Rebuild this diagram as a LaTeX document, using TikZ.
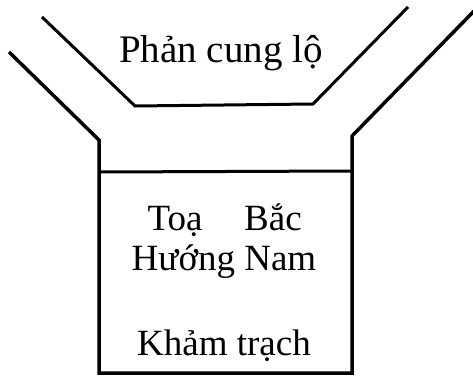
\documentclass[tikz,border=0pt]{standalone}
\usepackage{fontspec}
\setmainfont{Liberation Serif}
\usetikzlibrary{positioning}
\begin{document}
\begin{tikzpicture}[x=1pt, y=-1pt, line width=3pt] % Styles
\tikzstyle{wall}=[draw, line width=3.5pt]
\tikzstyle{label}=[font=\fontsize{37}{40}\selectfont, inner sep=0pt, anchor=base]
\useasboundingbox (0,0) rectangle (473,382);
\clip (0,0) rectangle (473,382); % Walls
\draw[wall] (9,52) -- (99,140) -- (99,373) -- (352,373) -- (352,136) -- (476,9);
\draw (42,17) -- (135,106) -- (313,104) -- (408,7);
\draw (99,172) -- (352,171); % Labels
\node[label, font=\fontsize{39}{42}\selectfont] (phan) at (221,63) {Phản cung lộ};
\node[label] (toa) at (175,230) {Toạ};
\node[label] (bac) at (273,230) {Bắc};
\node[label] (huong) at (224,270) {Hướng Nam};
\node[label] (kham) at (224,355) {Khảm trạch};
\end{tikzpicture}
\end{document}
